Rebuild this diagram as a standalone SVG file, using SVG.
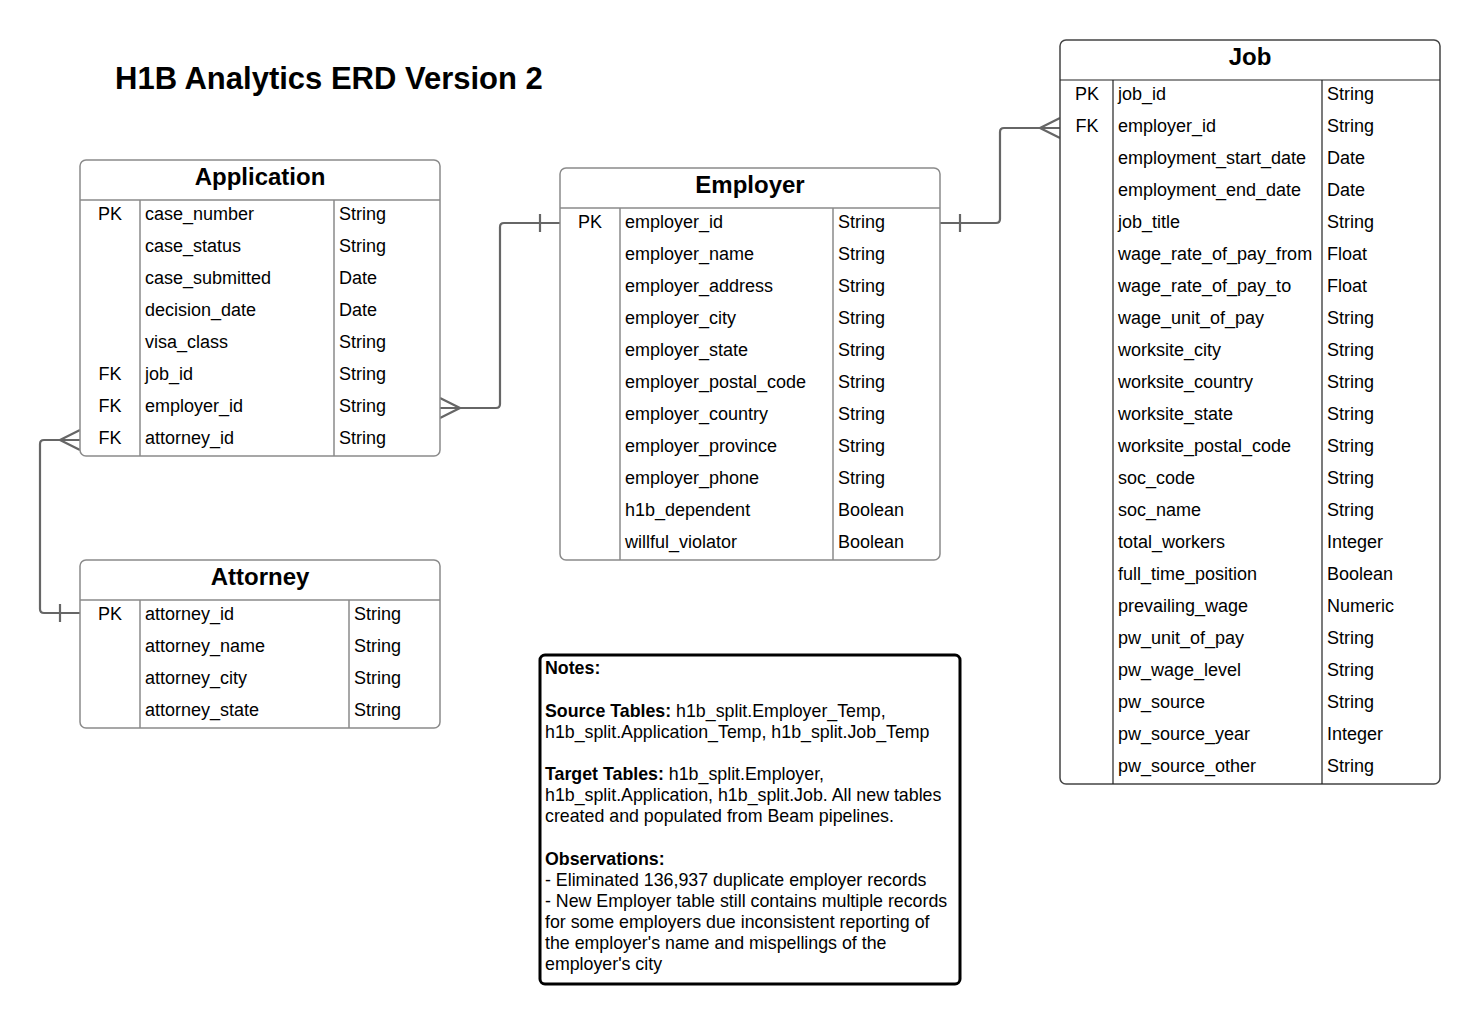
<svg xmlns="http://www.w3.org/2000/svg" width="1481" height="1025" viewBox="0 0 1481 1025">
<style>
text{font-family:"Liberation Sans",Arial,sans-serif;fill:#000}
.title{font-size:31px;font-weight:bold}
.hdr{font-size:24px;font-weight:bold;text-anchor:middle}
.row{font-size:18px}
.key{font-size:18px;text-anchor:middle}
.note{font-size:17.8px}
.b{font-weight:bold}
.box{fill:#fff;stroke:#8a8a8a;stroke-width:1.5}
.line{stroke:#8a8a8a;stroke-width:1.5}
.boxd{fill:#fff;stroke:#444;stroke-width:1.5}
.lined{stroke:#222;stroke-width:1.2}
.conn{fill:none;stroke:#666;stroke-width:2.2}
</style>
<rect width="1481" height="1025" fill="#fff"/>
<text class="title" x="115" y="89">H1B Analytics ERD Version 2</text>

<g id="connectors">
<path class="conn" d="M440,408 H496 Q500,408 500,404 V227 Q500,223 504,223 H560"/>
<path class="conn" d="M460,408 L440,398 M460,408 L440,418 M540,214 V232"/>
<path class="conn" d="M80,440 H44 Q40,440 40,444 V609 Q40,613 44,613 H80"/>
<path class="conn" d="M60,440 L80,430 M60,440 L80,450 M60,604 V622"/>
<path class="conn" d="M940,223 H996 Q1000,223 1000,219 V132 Q1000,128 1004,128 H1060"/>
<path class="conn" d="M960,214 V232 M1040,128 L1060,118 M1040,128 L1060,138"/>
</g>

<g id="application">
<rect class="box" x="80" y="160" width="360" height="296" rx="6"/>
<line class="line" x1="80" y1="200" x2="440" y2="200"/>
<line class="line" x1="140" y1="200" x2="140" y2="456"/>
<line class="line" x1="334" y1="200" x2="334" y2="456"/>
<text class="hdr" x="260" y="185">Application</text>
<text class="key" x="110" y="220">PK</text><text class="row" x="145" y="220">case_number</text><text class="row" x="339" y="220">String</text>
<text class="row" x="145" y="252">case_status</text><text class="row" x="339" y="252">String</text>
<text class="row" x="145" y="284">case_submitted</text><text class="row" x="339" y="284">Date</text>
<text class="row" x="145" y="316">decision_date</text><text class="row" x="339" y="316">Date</text>
<text class="row" x="145" y="348">visa_class</text><text class="row" x="339" y="348">String</text>
<text class="key" x="110" y="380">FK</text><text class="row" x="145" y="380">job_id</text><text class="row" x="339" y="380">String</text>
<text class="key" x="110" y="412">FK</text><text class="row" x="145" y="412">employer_id</text><text class="row" x="339" y="412">String</text>
<text class="key" x="110" y="444">FK</text><text class="row" x="145" y="444">attorney_id</text><text class="row" x="339" y="444">String</text>
</g>

<g id="employer">
<rect class="box" x="560" y="168" width="380" height="392" rx="6"/>
<line class="line" x1="560" y1="208" x2="940" y2="208"/>
<line class="line" x1="620" y1="208" x2="620" y2="560"/>
<line class="line" x1="833" y1="208" x2="833" y2="560"/>
<text class="hdr" x="750" y="193">Employer</text>
<text class="key" x="590" y="228">PK</text><text class="row" x="625" y="228">employer_id</text><text class="row" x="838" y="228">String</text>
<text class="row" x="625" y="260">employer_name</text><text class="row" x="838" y="260">String</text>
<text class="row" x="625" y="292">employer_address</text><text class="row" x="838" y="292">String</text>
<text class="row" x="625" y="324">employer_city</text><text class="row" x="838" y="324">String</text>
<text class="row" x="625" y="356">employer_state</text><text class="row" x="838" y="356">String</text>
<text class="row" x="625" y="388">employer_postal_code</text><text class="row" x="838" y="388">String</text>
<text class="row" x="625" y="420">employer_country</text><text class="row" x="838" y="420">String</text>
<text class="row" x="625" y="452">employer_province</text><text class="row" x="838" y="452">String</text>
<text class="row" x="625" y="484">employer_phone</text><text class="row" x="838" y="484">String</text>
<text class="row" x="625" y="516">h1b_dependent</text><text class="row" x="838" y="516">Boolean</text>
<text class="row" x="625" y="548">willful_violator</text><text class="row" x="838" y="548">Boolean</text>
</g>

<g id="job">
<rect class="boxd" x="1060" y="40" width="380" height="744" rx="6"/>
<line class="lined" x1="1060" y1="80" x2="1440" y2="80"/>
<line class="lined" x1="1113" y1="80" x2="1113" y2="784"/>
<line class="lined" x1="1322" y1="80" x2="1322" y2="784"/>
<text class="hdr" x="1250" y="65">Job</text>
<text class="key" x="1087" y="100">PK</text><text class="row" x="1118" y="100">job_id</text><text class="row" x="1327" y="100">String</text>
<text class="key" x="1087" y="132">FK</text><text class="row" x="1118" y="132">employer_id</text><text class="row" x="1327" y="132">String</text>
<text class="row" x="1118" y="164">employment_start_date</text><text class="row" x="1327" y="164">Date</text>
<text class="row" x="1118" y="196">employment_end_date</text><text class="row" x="1327" y="196">Date</text>
<text class="row" x="1118" y="228">job_title</text><text class="row" x="1327" y="228">String</text>
<text class="row" x="1118" y="260">wage_rate_of_pay_from</text><text class="row" x="1327" y="260">Float</text>
<text class="row" x="1118" y="292">wage_rate_of_pay_to</text><text class="row" x="1327" y="292">Float</text>
<text class="row" x="1118" y="324">wage_unit_of_pay</text><text class="row" x="1327" y="324">String</text>
<text class="row" x="1118" y="356">worksite_city</text><text class="row" x="1327" y="356">String</text>
<text class="row" x="1118" y="388">worksite_country</text><text class="row" x="1327" y="388">String</text>
<text class="row" x="1118" y="420">worksite_state</text><text class="row" x="1327" y="420">String</text>
<text class="row" x="1118" y="452">worksite_postal_code</text><text class="row" x="1327" y="452">String</text>
<text class="row" x="1118" y="484">soc_code</text><text class="row" x="1327" y="484">String</text>
<text class="row" x="1118" y="516">soc_name</text><text class="row" x="1327" y="516">String</text>
<text class="row" x="1118" y="548">total_workers</text><text class="row" x="1327" y="548">Integer</text>
<text class="row" x="1118" y="580">full_time_position</text><text class="row" x="1327" y="580">Boolean</text>
<text class="row" x="1118" y="612">prevailing_wage</text><text class="row" x="1327" y="612">Numeric</text>
<text class="row" x="1118" y="644">pw_unit_of_pay</text><text class="row" x="1327" y="644">String</text>
<text class="row" x="1118" y="676">pw_wage_level</text><text class="row" x="1327" y="676">String</text>
<text class="row" x="1118" y="708">pw_source</text><text class="row" x="1327" y="708">String</text>
<text class="row" x="1118" y="740">pw_source_year</text><text class="row" x="1327" y="740">Integer</text>
<text class="row" x="1118" y="772">pw_source_other</text><text class="row" x="1327" y="772">String</text>
</g>

<g id="attorney">
<rect class="box" x="80" y="560" width="360" height="168" rx="6"/>
<line class="line" x1="80" y1="600" x2="440" y2="600"/>
<line class="line" x1="140" y1="600" x2="140" y2="728"/>
<line class="line" x1="349" y1="600" x2="349" y2="728"/>
<text class="hdr" x="260" y="585">Attorney</text>
<text class="key" x="110" y="620">PK</text><text class="row" x="145" y="620">attorney_id</text><text class="row" x="354" y="620">String</text>
<text class="row" x="145" y="652">attorney_name</text><text class="row" x="354" y="652">String</text>
<text class="row" x="145" y="684">attorney_city</text><text class="row" x="354" y="684">String</text>
<text class="row" x="145" y="716">attorney_state</text><text class="row" x="354" y="716">String</text>
</g>

<g id="notes">
<rect x="540" y="655" width="420" height="329" rx="5" fill="#fff" stroke="#000" stroke-width="3"/>
<text class="note b" x="545" y="674">Notes:</text>
<text class="note" x="545" y="717"><tspan class="b">Source Tables:</tspan> h1b_split.Employer_Temp,</text>
<text class="note" x="545" y="738">h1b_split.Application_Temp, h1b_split.Job_Temp</text>
<text class="note" x="545" y="780"><tspan class="b">Target Tables:</tspan> h1b_split.Employer,</text>
<text class="note" x="545" y="801">h1b_split.Application, h1b_split.Job. All new tables</text>
<text class="note" x="545" y="822">created and populated from Beam pipelines.</text>
<text class="note b" x="545" y="865">Observations:</text>
<text class="note" x="545" y="886">- Eliminated 136,937 duplicate employer records</text>
<text class="note" x="545" y="907">- New Employer table still contains multiple records</text>
<text class="note" x="545" y="928">for some employers due inconsistent reporting of</text>
<text class="note" x="545" y="949">the employer's name and mispellings of the</text>
<text class="note" x="545" y="970">employer's city</text>
</g>
</svg>
